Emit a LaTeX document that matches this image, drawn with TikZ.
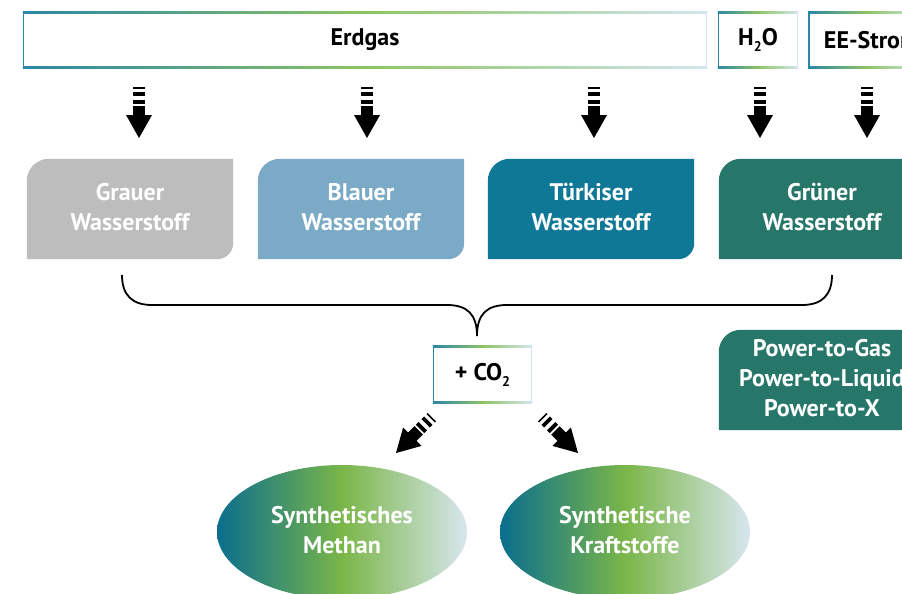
\documentclass[tikz,border=0pt]{standalone}
\usepackage{fontspec}
\setmainfont{PT Sans}
\usetikzlibrary{shapes.geometric,backgrounds,calc}
\definecolor{cgrey}{HTML}{BDBDBD}
\definecolor{cblue}{HTML}{7AAAC6}
\definecolor{cturq}{HTML}{0E7896}
\definecolor{cgreen}{HTML}{27766A}
\definecolor{gteal}{HTML}{2C86A6}
\definecolor{ggreen}{HTML}{8CC463}
\definecolor{glight}{HTML}{D3E5EE}
\definecolor{eteal}{HTML}{0A6E8E}
\definecolor{egreen}{HTML}{7AB648}
\definecolor{elight}{HTML}{D8E6EE}
\newcommand{\gframe}[1]{%
  \shade[left color=gteal, right color=glight, middle color=ggreen]
    (#1.north west) rectangle ([yshift=-1.6pt]#1.north east);
  \shade[left color=gteal, right color=glight, middle color=ggreen]
    (#1.south west) rectangle ([yshift=1.6pt]#1.south east);
  \fill[gteal] (#1.south west) rectangle ([xshift=1.6pt]#1.north west);
  \fill[glight] (#1.south east) rectangle ([xshift=-1.6pt]#1.north east);
}
\begin{document}
\begin{tikzpicture}[x=1pt,y=1pt,
  every node/.style={font=\bfseries\fontsize{24}{30}\selectfont, align=center, inner sep=0pt},
  topbox/.style={minimum height=56, text=black},
  hbox/.style={minimum width=206, minimum height=100, text=white},
  synth/.style={ellipse, minimum width=250, minimum height=134, text=white,
    left color=eteal, right color=elight, middle color=egreen},
  downarr/.pic={
    \fill (0,0) -- (-13,23) -- (13,23) -- cycle;
    \fill (-6,22.5) rectangle (6,32);
    \fill (-6,34) rectangle (6,38);
    \fill (-6,42) rectangle (6,45.7);
    \fill (-6,49) rectangle (6,50.7);
  }]
\useasboundingbox (0,0) rectangle (902,-594);

% top boxes
\node[topbox, minimum width=684] (erdgas) at (365,-40) {Erdgas};
\node[topbox, minimum width=80] (wasser) at (758,-40) {H\raisebox{-6pt}{\fontsize{14}{14}\selectfont 2}O};
\node[topbox, minimum width=118, anchor=west] (strom) at (808,-40) {\hspace*{9pt}EE-Strom\hfill};
\gframe{erdgas}
\gframe{wasser}
\gframe{strom}

% hydrogen boxes
\node[hbox] (grau) at (130,-209) {Grauer\\Wasserstoff\rule[-4pt]{0pt}{1pt}};
\node[hbox] (blau) at (361,-209) {Blauer\\Wasserstoff\rule[-4pt]{0pt}{1pt}};
\node[hbox] (tuerk) at (591,-209) {Türkiser\\Wasserstoff\rule[-4pt]{0pt}{1pt}};
\node[hbox] (gruen) at (822,-209) {Grüner\\Wasserstoff\rule[-4pt]{0pt}{1pt}};
\node[hbox] (power) at (822,-380) {Power-to-Gas\\Power-to-Liquid\\Power-to-X\rule[-4pt]{0pt}{1pt}};
\begin{scope}[on background layer]
  \fill[white] (0,0) rectangle (902,-594);
  \foreach \n/\c in {grau/cgrey, blau/cblue, tuerk/cturq, gruen/cgreen} {
    \fill[\c] (\n.south west) -- ([yshift=-22pt]\n.north west)
      arc[start angle=180, end angle=90, radius=22] -- (\n.north east)
      -- ([yshift=16pt]\n.south east) arc[start angle=0, end angle=-90, radius=16] -- cycle;
  }
  \fill[cgreen] (power.south west) -- ([yshift=-22pt]power.north west)
      arc[start angle=180, end angle=90, radius=22] -- (power.north east)
      -- (power.south east) -- cycle;
\end{scope}

% down arrows
\coordinate (a1) at (139,-138);
\coordinate (a2) at (367,-138);
\coordinate (a3) at (594,-138);
\coordinate (a4) at (760,-138);
\coordinate (a5) at (867,-138);
\foreach \a in {a1,a2,a3,a4,a5} { \pic at (\a) {downarr}; }

% brace
\coordinate (bl) at (122,-275);
\coordinate (br) at (832,-275);
\coordinate (bt) at (477,-336);
\draw[line width=1.8pt] (bl) .. controls (122,-295) and (132,-305) .. (152,-305)
  -- (447,-305) .. controls (467,-305) and (477,-314) .. (bt)
  .. controls (477,-314) and (487,-305) .. (507,-305)
  -- (802,-305) .. controls (822,-305) and (832,-295) .. (br);

% CO2 box
\node[minimum width=99, minimum height=57, text=black] (co2) at (482.5,-374.5)
  {+ CO\raisebox{-6pt}{\fontsize{14}{14}\selectfont 2}};
\gframe{co2}

% products
\node[synth] (methan) at (342,-532) {Synthetisches\\Methan\rule[-5pt]{0pt}{1pt}};
\node[synth] (kraft) at (625,-532) {Synthetische\\Kraftstoffe\rule[-5pt]{0pt}{1pt}};

% diagonal arrows
\coordinate (d1) at (396,-453);
\coordinate (d2) at (578,-453);
\pic[rotate=-45] at (d1) {downarr};
\pic[rotate=45] at (d2) {downarr};
\end{tikzpicture}
\end{document}
